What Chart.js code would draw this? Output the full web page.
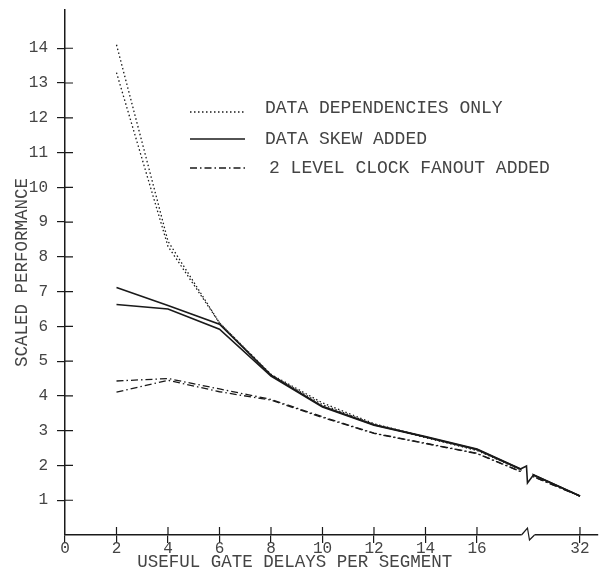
<!DOCTYPE html>
<html>
<head>
<meta charset="utf-8">
<script src="https://cdn.jsdelivr.net/npm/chart.js@4"></script>
<style>
  html, body { margin: 0; padding: 0; background: #fff; }
  #wrap { width: 600px; height: 576px; }
</style>
</head>
<body>
<div id="wrap"><canvas id="chart"></canvas></div>
<script>
// values (x = useful gate delays per segment)
const gateDelays = [2, 4, 6, 8, 10, 12, 14, 16, 32];
const depOnlyA = [14.1, 8.45, 6.1, 4.62, 3.8, 3.2, 2.82, 2.45, 1.12];
const depOnlyB = [13.3, 8.3, 6.1, 4.6, 3.75, 3.18, 2.8, 2.43, 1.12];
const skewA = [7.12, 6.6, 6.06, 4.6, 3.7, 3.17, 2.83, 2.47, 1.12];
const skewB = [6.63, 6.5, 5.92, 4.57, 3.68, 3.16, 2.82, 2.46, 1.12];
const fanoutA = [4.43, 4.5, 4.2, 3.9, 3.4, 2.93, 2.64, 2.35, 1.12];
const fanoutB = [4.11, 4.45, 4.12, 3.88, 3.38, 2.92, 2.63, 2.34, 1.12];

const xTickLabels = [0, 2, 4, 6, 8, 10, 12, 14, 16, 32];
const yTickLabels = [1, 2, 3, 4, 5, 6, 7, 8, 9, 10, 11, 12, 13, 14];
const legendLabels = ['DATA DEPENDENCIES ONLY', 'DATA SKEW ADDED', '2 LEVEL CLOCK FANOUT ADDED'];

// axis is broken after 16: 32 sits two steps past the break
const BREAK_AT = 18;
const axisPos = v => v <= 16 ? v : BREAK_AT + 2;

const FAMILY = '"Liberation Mono", "DejaVu Sans Mono", monospace';
const TICK_FONT = { family: FAMILY, size: 16 };
const TITLE_FONT = { family: FAMILY, size: 17.5 };
const LEGEND_SIZE = 18;
const INK = '#1a1a1a';
const TEXT = '#444';

const DOTTED = [1.5, 2.5];
const SOLID = [];
const DASHDOT = [7, 3, 1.5, 3];

function series(values, dash, label, inLegend) {
    return {
        label: label,
        inLegend: inLegend,
        data: gateDelays.map((g, i) => ({ x: axisPos(g), y: values[i] })),
        borderColor: INK,
        borderWidth: dash.length ? 1.3 : 1.6,
        borderDash: dash,
        pointRadius: 0,
        tension: 0,
        fill: false
    };
}

// ticks crossing the axis lines, plus break marks
const axisDecor = {
    id: 'axisDecor',
    afterDatasetsDraw(chart) {
        const { ctx, chartArea, scales: { x, y } } = chart;
        ctx.save();
        ctx.strokeStyle = INK;
        ctx.lineWidth = 1.2;
        ctx.beginPath();
        y.ticks.forEach(t => {
            const py = y.getPixelForValue(t.value);
            ctx.moveTo(chartArea.left, py);
            ctx.lineTo(chartArea.left + 8, py);
        });
        x.ticks.forEach(t => {
            if (t.value === 0) return;
            const px = x.getPixelForValue(t.value);
            ctx.moveTo(px, chartArea.bottom);
            ctx.lineTo(px, chartArea.bottom - 8);
        });
        ctx.stroke();

        // break on the x axis
        const bx = x.getPixelForValue(BREAK_AT);
        const by = chartArea.bottom;
        ctx.fillStyle = '#fff';
        ctx.fillRect(bx - 7, by - 2, 13, 4);
        ctx.beginPath();
        ctx.moveTo(bx - 7, by);
        ctx.lineTo(bx - 1, by - 7);
        ctx.lineTo(bx + 1, by + 5);
        ctx.lineTo(bx + 6, by);
        ctx.stroke();

        // break on the curve between 16 and 32
        const pts = chart.getDatasetMeta(2).data;
        const p0 = pts[pts.length - 2], p1 = pts[pts.length - 1];
        const lx = bx - 8;
        const ly = p0.y + (p1.y - p0.y) * (lx - p0.x) / (p1.x - p0.x);
        const rx = bx + 5;
        const ry = p0.y + (p1.y - p0.y) * (rx - p0.x) / (p1.x - p0.x);
        ctx.fillRect(lx + 1, ly - 6, rx - lx - 2, 22);
        ctx.lineWidth = 1.6;
        ctx.beginPath();
        ctx.moveTo(lx, ly);
        ctx.lineTo(lx + 6, ly - 3);
        ctx.lineTo(lx + 7, ly + 14);
        ctx.lineTo(rx, ry);
        ctx.stroke();
        ctx.restore();
    }
};

// legend drawn inside the plot, one entry per curve style
const innerLegend = {
    id: 'innerLegend',
    afterDraw(chart) {
        const { ctx, chartArea } = chart;
        const entries = chart.data.datasets.filter(d => d.inLegend);
        const rowY = [112, 139, 168];
        ctx.save();
        ctx.font = LEGEND_SIZE + 'px ' + FAMILY;
        ctx.textBaseline = 'middle';
        entries.forEach((d, i) => {
            const yy = rowY[i];
            const x0 = chartArea.left + 125;
            ctx.strokeStyle = INK;
            ctx.lineWidth = d.borderWidth;
            ctx.setLineDash(d.borderDash);
            ctx.beginPath();
            ctx.moveTo(x0, yy);
            ctx.lineTo(x0 + 55, yy);
            ctx.stroke();
            ctx.setLineDash([]);
            ctx.fillStyle = TEXT;
            ctx.fillText(d.label, x0 + 75 + (i === 2 ? 4 : 0), yy - (i === 0 ? 4 : 0));
        });
        ctx.restore();
    }
};

new Chart(document.getElementById('chart'), {
    type: 'line',
    data: {
        datasets: [
            series(depOnlyA, DOTTED, legendLabels[0], true),
            series(depOnlyB, DOTTED, legendLabels[0], false),
            series(skewA, SOLID, legendLabels[1], true),
            series(skewB, SOLID, legendLabels[1], false),
            series(fanoutA, DASHDOT, legendLabels[2], true),
            series(fanoutB, DASHDOT, legendLabels[2], false)
        ]
    },
    options: {
        responsive: true,
        maintainAspectRatio: false,
        animation: false,
        layout: { padding: { top: 10, right: 2 } },
        plugins: {
            legend: { display: false },
            tooltip: { enabled: false }
        },
        scales: {
            x: {
                type: 'linear',
                min: 0,
                max: 20.7,
                afterBuildTicks(scale) {
                    scale.ticks = xTickLabels.map(v => ({ value: axisPos(v) }));
                },
                afterFit(scale) { scale.height = 41; },
                ticks: {
                    font: TICK_FONT,
                    color: TEXT,
                    padding: -4,
                    maxRotation: 0,
                    autoSkip: false,
                    callback: v => String(xTickLabels.find(t => axisPos(t) === v))
                },
                grid: { drawOnChartArea: false, tickLength: 8, color: INK, lineWidth: 1.2 },
                border: { color: INK, width: 1.5 },
                title: {
                    display: true,
                    text: 'USEFUL GATE DELAYS PER SEGMENT       ',
                    font: TITLE_FONT,
                    color: TEXT,
                    padding: { top: 0, bottom: 3 }
                }
            },
            y: {
                type: 'linear',
                min: 0,
                max: 15.1,
                afterBuildTicks(scale) {
                    scale.ticks = yTickLabels.map(v => ({ value: v }));
                },
                afterFit(scale) {
                    scale.width = 65;
                    scale.paddingTop = 0;
                    scale.paddingBottom = 0;
                },
                ticks: {
                    font: TICK_FONT,
                    color: TEXT,
                    padding: 9,
                    autoSkip: false
                },
                grid: { drawOnChartArea: false, tickLength: 8, color: INK, lineWidth: 1.2 },
                border: { color: INK, width: 1.5 },
                title: {
                    display: true,
                    text: 'SCALED PERFORMANCE',
                    font: TITLE_FONT,
                    color: TEXT,
                    padding: { top: 12, bottom: 0 }
                }
            }
        }
    },
    plugins: [axisDecor, innerLegend]
});
</script>
</body>
</html>
